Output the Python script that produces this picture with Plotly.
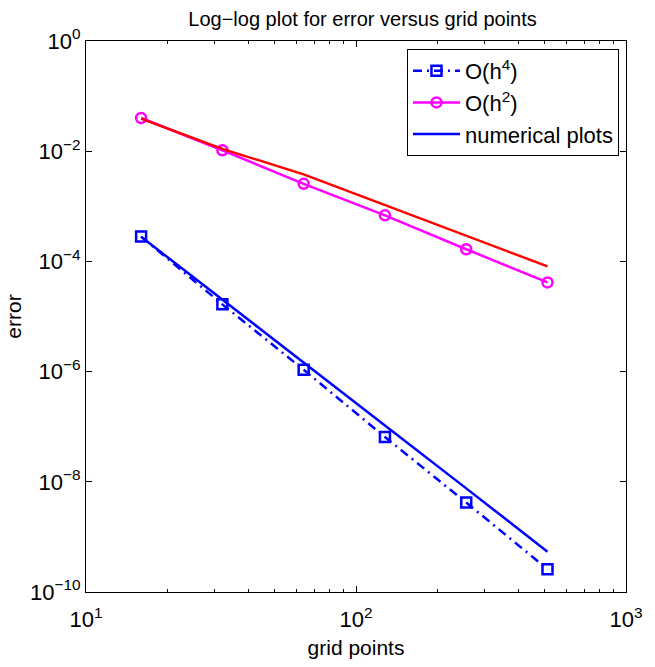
import plotly.graph_objects as go

# grid sizes used in the convergence study
grid_points = [16, 32, 64, 128, 256, 512]

# reference slopes
ref_h4 = [2.82e-4, 1.66e-5, 1.08e-6, 6.5e-8, 4.2e-9, 2.6e-10]
ref_h2 = [0.040, 0.0104, 0.00256, 6.85e-4, 1.66e-4, 4.15e-5]

# measured errors
num_fourth = [2.8e-4, 2.0e-5, 1.45e-6, 1.05e-7, 7.6e-9, 5.4e-10]
num_second = [0.039, 0.011, 0.0038, 0.00106, 3.0e-4, 8.1e-5]

x_tickvals = [10, 100, 1000]
x_ticktext = ["10<sup>1</sup>", "10<sup>2</sup>", "10<sup>3</sup>"]
x_minor = [20, 30, 40, 50, 60, 70, 80, 90, 200, 300, 400, 500, 600, 700, 800, 900]
y_tickvals = [1, 1e-2, 1e-4, 1e-6, 1e-8, 1e-10]
y_ticktext = ["10<sup>0</sup>", "10<sup>\u22122</sup>", "10<sup>\u22124</sup>",
              "10<sup>\u22126</sup>", "10<sup>\u22128</sup>", "10<sup>\u221210</sup>"]

FONT = "Liberation Sans, Arial, sans-serif"

fig = go.Figure()

fig.add_trace(go.Scatter(
    x=grid_points, y=ref_h4, name="O(h<sup>4</sup>)", mode="lines+markers",
    line=dict(color="#0000ff", width=2.5, dash="9px,5px,2px,5px"),
    marker=dict(symbol="square-open", size=10, color="#0000ff", line=dict(width=2.5)),
))
fig.add_trace(go.Scatter(
    x=grid_points, y=ref_h2, name="O(h<sup>2</sup>)", mode="lines+markers",
    line=dict(color="#ff00ff", width=2.5),
    marker=dict(symbol="circle-open", size=10, color="#ff00ff", line=dict(width=2.5)),
))
fig.add_trace(go.Scatter(
    x=grid_points, y=num_fourth, name="numerical plots", mode="lines",
    line=dict(color="#0000ff", width=2.5),
))
fig.add_trace(go.Scatter(
    x=grid_points, y=num_second, name="numerical plots (2nd order)", mode="lines",
    line=dict(color="#ff0000", width=2.5), showlegend=False,
))

axis_common = dict(
    type="log", showgrid=False, zeroline=False,
    showline=True, linecolor="black", linewidth=1, mirror="ticks",
    ticks="inside", ticklen=6, tickcolor="black", tickwidth=1,
    tickfont=dict(family=FONT, size=22, color="black"),
    ticklabeloverflow="allow",
)

fig.update_xaxes(
    **axis_common, range=[1, 3],
    tickmode="array", tickvals=x_tickvals, ticktext=x_ticktext,
    ticklabelstandoff=8,
    minor=dict(ticks="inside", ticklen=3, tickcolor="black", tickvals=x_minor),
    title=dict(text="grid points", font=dict(family=FONT, size=21, color="black"), standoff=8),
)
fig.update_yaxes(
    **axis_common, range=[-10, 0],
    tickmode="array", tickvals=y_tickvals, ticktext=y_ticktext,
    title=dict(text="error", font=dict(family=FONT, size=21, color="black"), standoff=2),
)

fig.update_layout(
    width=655, height=667,
    margin=dict(l=86, r=16, t=41, b=73),
    paper_bgcolor="white", plot_bgcolor="white",
    title=dict(text="Log\u2212log plot for error versus grid points",
               font=dict(family=FONT, size=20, color="black"),
               x=0.5535, xanchor="center", y=0.972, yanchor="middle"),
    legend=dict(
        x=0.987, y=0.9855, xanchor="right", yanchor="top",
        bgcolor="white", bordercolor="black", borderwidth=1,
        font=dict(family=FONT, size=22, color="black"),
        itemwidth=47, tracegroupgap=0,
    ),
    showlegend=True,
)

fig.write_html("out.html")
